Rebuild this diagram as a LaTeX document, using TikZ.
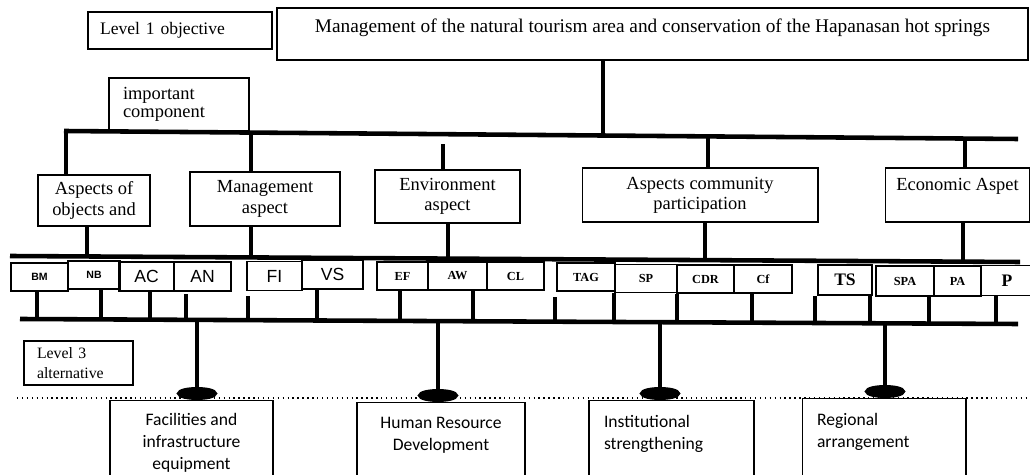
\documentclass[tikz,border=0pt]{standalone}
\usepackage{fontspec}
\setmainfont{Liberation Serif}
\setsansfont{Liberation Sans}
\newfontfamily\carlito{Carlito}
\usetikzlibrary{arrows.meta}
\begin{document}
\begin{tikzpicture}[x=0.02cm,y=-0.02cm,
    box/.style={draw,line width=0.6pt,inner sep=1pt},
    stem/.style={line width=2.2pt},
    bus/.style={line width=2.6pt},
    aspect/.style={box,font=\fontsize{10.5}{11.5}\selectfont,align=center},
    leafa/.style={box,font=\sffamily\bfseries\fontsize{6}{7}\selectfont,minimum height=0.56cm},
    leafb/.style={box,font=\sffamily\fontsize{10}{11}\selectfont,minimum height=0.58cm},
    leafc/.style={box,font=\bfseries\fontsize{7}{8}\selectfont,minimum height=0.56cm},
    leafd/.style={box,font=\bfseries\fontsize{10}{11}\selectfont,minimum height=0.6cm},
    alt/.style={box,anchor=north,font=\carlito\fontsize{10}{12.5}\selectfont,minimum height=1.7cm},
    blob/.style={stem,-{Ellipse[length=0.26cm,width=0.8cm]}}]
\useasboundingbox (0,0) rectangle (1030,475);
\clip (0,0) rectangle (1030,475);
% level 1
\node[box,minimum width=3.68cm,minimum height=0.74cm,inner xsep=0.24cm,text width=3.2cm,align=left,font=\fontsize{10}{11}\selectfont] (lvlone) at (180,30.5) {Level 1 objective};
\node[box,line width=1.5pt,minimum width=15.02cm,minimum height=1.04cm,text height=0.26cm,text depth=0.3cm,font=\fontsize{11}{12}\selectfont] (goal) at (652.5,34) {Management of the natural tourism area and conservation of the Hapanasan hot springs};
\node[box,minimum width=2.8cm,minimum height=1.06cm,inner xsep=0.28cm,text width=2.24cm,align=left,font=\fontsize{10.5}{10}\selectfont] (comp) at (179,104.5) {important\\component};
% level 2
\node[aspect,minimum width=2.24cm,minimum height=1.02cm] (obj) at (94,200.5) {Aspects of\\objects and};
\node[aspect,minimum width=3.0cm,minimum height=1.08cm] (man) at (265,199) {Management\\aspect};
\node[aspect,minimum width=2.9cm,minimum height=1.06cm] (env) at (447.5,196.5) {Environment\\aspect};
\node[aspect,minimum width=4.72cm,minimum height=1.08cm] (com) at (700,195) {Aspects community\\participation};
\node[aspect,minimum width=2.9cm,minimum height=1.08cm] (eco) at (957.5,195) {Economic Aspet\\~};
% criteria
\node[leafa,minimum width=1.14cm] (bm) at (39.5,277) {BM};
\node[leafa,minimum width=1.04cm] (nb) at (94,275) {NB};
\node[leafb,minimum width=1.10cm] (ac) at (146.5,276.5) {AC};
\node[leafb,minimum width=1.14cm] (an) at (202.5,276.5) {AN};
\node[leafb,minimum width=1.10cm] (fi) at (274.5,276) {FI};
\node[leafb,minimum width=1.22cm] (vs) at (332.5,274.5) {VS};
\node[leafc,minimum width=1.02cm] (ef) at (402.5,276) {EF};
\node[leafc,minimum width=1.18cm] (aw) at (457.5,276) {AW};
\node[leafc,minimum width=1.14cm] (cl) at (515.5,276) {CL};
\node[leafc,minimum width=1.16cm] (tag) at (586,277) {TAG};
\node[leafc,minimum width=1.24cm] (sp) at (646,278.5) {SP};
\node[leafc,minimum width=1.14cm] (cdr) at (705.5,279) {CDR};
\node[leafc,minimum width=1.16cm] (cf) at (763,279) {Cf};
\node[leafd,minimum width=1.08cm] (ts) at (845,280) {TS};
\node[leafc,minimum width=1.16cm,minimum height=0.6cm] (spa) at (905,281) {SPA};
\node[leafc,minimum width=0.94cm,minimum height=0.6cm] (pa) at (957.5,281) {PA};
\node[leafd,minimum width=1.04cm] (p) at (1007,280.5) {P};
% level 3
\node[box,minimum width=2.18cm,minimum height=0.88cm,inner xsep=0.26cm,text width=1.66cm,align=left,font=\fontsize{9}{11}\selectfont] (lvlthree) at (78.5,363) {Level 3\\alternative};
\draw[dotted,line width=0.8pt] (17,398) coordinate (dl) -- (1030,398) coordinate (dr);
\node[alt,minimum width=3.26cm,align=center] (fac) at (191.5,400) {Facilities and\\infrastructure\\equipment};
\node[alt,minimum width=3.36cm,align=center] (hrd) at (441,402) {Human Resource\\Development\\~};
\node[alt,minimum width=3.3cm,inner xsep=0.3cm,text width=2.7cm,align=left] (ins) at (671.5,400) {Institutional\\strengthening\\~};
\node[alt,minimum width=3.28cm,inner xsep=0.3cm,text width=2.68cm,align=left] (reg) at (884,398) {Regional\\arrangement\\~};
% buses
\path (64,131) coordinate (bla) (1018,139) coordinate (blb)
      (10,256) coordinate (b2a) (1020,262) coordinate (b2b)
      (20,319) coordinate (b3a) (1018,324) coordinate (b3b);
\draw[bus] (bla) -- (blb);
\draw[bus] (b2a) -- (b2b);
\draw[bus] (b3a) -- (b3b);
% goal to aspects
\coordinate (tg) at (603,135.5);
\draw[stem] (goal.south -| tg) -- (tg);
\path (66,131) coordinate (t1) (251,132.6) coordinate (t2) (443,134.2) coordinate (t3)
      (708,136.4) coordinate (t4) (965,138.6) coordinate (t5);
\draw[stem] (t1) -- (t1 |- obj.north);
\draw[stem] (t2) -- (t2 |- man.north);
\draw[stem,shorten <=0.2cm] (t3) -- (t3 |- env.north);
\draw[stem] (t4) -- (t4 |- com.north);
\draw[stem] (t5) -- (t5 |- eco.north);
% aspects to criteria
\path (87,256.5) coordinate (m1) (251,257.4) coordinate (m2) (448,258.6) coordinate (m3)
      (705,260.1) coordinate (m4) (963,261.7) coordinate (m5);
\draw[stem] (obj.south -| m1) -- (m1);
\draw[stem] (man.south -| m2) -- (m2);
\draw[stem] (env.south -| m3) -- (m3);
\draw[stem] (com.south -| m4) -- (m4);
\draw[stem] (eco.south -| m5) -- (m5);
% criteria to alternatives
\path (37,319.1) coordinate (d1) (101,319.4) coordinate (d2) (150,319.7) coordinate (d3)
      (186,319.8) coordinate (d4) (248,320.1) coordinate (d5) (317,320.5) coordinate (d6)
      (400,320.9) coordinate (d7) (473,321.3) coordinate (d8) (555,321.7) coordinate (d9)
      (614,322) coordinate (d10) (677,322.3) coordinate (d11) (752,322.7) coordinate (d12)
      (815,323) coordinate (d13) (870,323.3) coordinate (d14) (929,323.6) coordinate (d15)
      (996,323.9) coordinate (d16);
\draw[stem] (d1) -- (d1 |- bm.south);
\draw[stem] (d2) -- (d2 |- nb.south);
\draw[stem] (d3) -- (d3 |- ac.south);
\draw[stem,shorten >=0.04cm] (d4) -- (d4 |- an.south);
\draw[stem,shorten >=0.1cm] (d5) -- (d5 |- fi.south);
\draw[stem] (d6) -- (d6 |- vs.south);
\draw[stem] (d7) -- (d7 |- ef.south);
\draw[stem] (d8) -- (d8 |- aw.south);
\draw[stem,shorten >=0.1cm] (d9) -- (d9 |- tag.south);
\draw[stem] (d10) -- (d10 |- sp.south);
\draw[stem] (d11) -- (d11 |- cdr.south);
\draw[stem] (d12) -- (d12 |- cf.south);
\draw[stem] (d13) -- (d13 |- ts.south);
\draw[stem] (d14) -- (d14 |- ts.south);
\draw[stem] (d15) -- (d15 |- spa.south);
\draw[stem] (d16) -- (d16 |- p.south);
\path (197,320.3) coordinate (a1) (438,321.5) coordinate (a2)
      (660,322.6) coordinate (a3) (885,323.7) coordinate (a4);
\draw[blob] (a1) -- (a1 |- fac.north);
\draw[blob] (a2) -- (a2 |- hrd.north);
\draw[blob] (a3) -- (a3 |- ins.north);
\draw[blob] (a4) -- (a4 |- reg.north);
\end{tikzpicture}
\end{document}
